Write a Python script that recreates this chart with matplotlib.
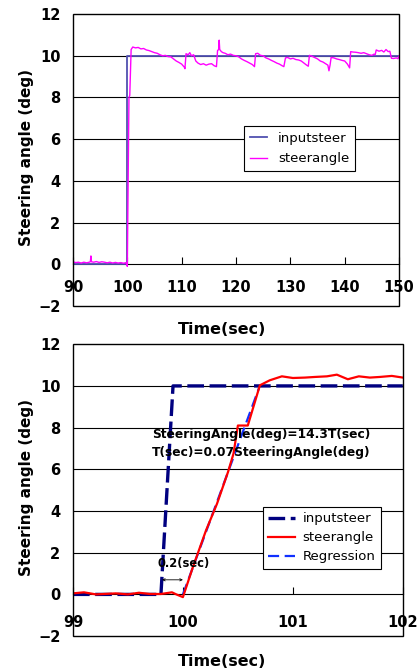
import matplotlib
matplotlib.use("Agg")
import matplotlib.pyplot as plt
from matplotlib.patches import Rectangle

plt.rcParams['font.family'] = ['DejaVu Sans']
plt.rcParams['lines.scale_dashes'] = False

# --- upper chart: 90-150 s ---
top_input_t = [90, 100, 100, 150]
top_input_v = [0, 0, 10, 10]

top_steer_t = [90.0, 90.5, 91.0, 91.5, 92.0, 92.5, 93.0, 93.2, 93.3, 93.4, 93.8, 94.3, 94.8,
               95.3, 95.8, 96.3, 96.8, 97.3, 97.8, 98.3, 98.8, 99.3, 99.8, 100.0, 100.3,
               100.45, 100.7, 101.0, 101.5, 102.0, 102.5, 103.0, 103.5, 104.0, 104.5, 105.0,
               105.5, 106.0, 106.5, 107.0, 107.5, 108.0, 108.5, 109.0, 109.5, 110.0, 110.5,
               110.6, 110.8, 111.2, 111.5, 111.8, 112.2, 112.6, 113.0, 113.5, 114.0, 114.5,
               115.0, 115.5, 116.0, 116.4, 116.6, 116.8, 116.9, 117.0, 117.3, 117.6, 118.0,
               118.5, 119.0, 119.5, 120.0, 120.5, 121.0, 121.5, 122.0, 122.5, 123.0, 123.4,
               123.6, 124.0, 124.5, 125.0, 125.5, 126.0, 126.5, 127.0, 127.5, 128.0, 128.5,
               128.8, 129.1, 129.5, 130.0, 130.5, 131.0, 131.5, 132.0, 132.5, 133.0, 133.3,
               133.5, 133.8, 134.2, 134.6, 135.0, 135.5, 136.0, 136.5, 136.9, 137.1, 137.3,
               137.5, 138.0, 138.5, 139.0, 139.5, 140.0, 140.5, 140.9, 141.1, 141.5, 142.0,
               142.5, 143.0, 143.5, 144.0, 144.5, 145.0, 145.4, 145.6, 145.8, 146.3, 146.8,
               147.2, 147.6, 148.0, 148.3, 148.6, 149.0, 149.5, 149.8, 150.0]
top_steer_v = [0.12, 0.08, 0.10, 0.06, 0.10, 0.07, 0.10, 0.12, 0.40, 0.12, 0.10, 0.13, 0.09,
               0.12, 0.10, 0.07, 0.10, 0.06, 0.09, 0.06, 0.08, 0.05, 0.08, -0.10, 8.0,
               8.1, 10.3, 10.42, 10.38, 10.40, 10.33, 10.35, 10.28, 10.25, 10.20, 10.15,
               10.12, 10.05, 10.00, 10.02, 9.96, 9.95, 9.85, 9.75, 9.68, 9.60, 9.45,
               9.38, 10.10, 10.05, 10.15, 10.00, 10.05, 9.75, 9.65, 9.58, 9.62, 9.55,
               9.60, 9.62, 9.52, 9.48, 10.25, 10.30, 10.75, 10.30, 10.20, 10.15, 10.12,
               10.05, 10.08, 10.02, 10.00, 9.95, 9.85, 9.78, 9.72, 9.65, 9.58, 9.48,
               10.10, 10.12, 10.02, 10.00, 9.90, 9.85, 9.78, 9.72, 9.65, 9.60, 9.52,
               9.48, 9.90, 9.92, 9.85, 9.88, 9.82, 9.80, 9.75, 9.65, 9.55, 9.50,
               10.02, 10.00, 9.95, 9.90, 9.85, 9.75, 9.70, 9.62, 9.55, 9.28, 9.55,
               9.92, 9.90, 9.85, 9.82, 9.78, 9.75, 9.60, 9.42, 10.20, 10.18, 10.17,
               10.15, 10.12, 10.15, 10.10, 10.05, 10.02, 10.08, 10.05, 10.28, 10.22, 10.26,
               10.18, 10.30, 10.20, 10.22, 9.88, 9.87, 9.90, 9.86, 10.00]

# --- lower chart: zoom 99-102 s ---
bot_input_t = [99.0, 99.8, 99.91, 102.0]
bot_input_v = [0, 0, 10, 10]

bot_steer_t = [99.0, 99.1, 99.21, 99.39, 99.5, 99.6, 99.7, 99.8, 99.9, 99.94, 100.0, 100.09,
               100.21, 100.31, 100.41, 100.46, 100.5, 100.59, 100.7, 100.79, 100.9, 101.0,
               101.11, 101.2, 101.31, 101.4, 101.5, 101.6, 101.7, 101.79, 101.9, 102.0]
bot_steer_v = [0.05, 0.1, 0.0, 0.05, 0.0, 0.08, 0.02, 0.02, 0.1, 0.0, -0.13, 1.3,
               3.07, 4.35, 5.87, 6.75, 8.1, 8.1, 10.03, 10.27, 10.46, 10.38,
               10.4, 10.43, 10.46, 10.54, 10.32, 10.46, 10.4, 10.43, 10.48, 10.4]

reg_t = [100.0, 100.69]
reg_v = [0.0, 9.87]

fig = plt.figure(figsize=(4.17, 6.71), dpi=100)
ax1 = fig.add_axes([0.175, 0.544, 0.782, 0.435])
ax2 = fig.add_axes([0.175, 0.052, 0.791, 0.435])


def style_axes(ax, xlim, xticks, pad):
    ax.set_xlim(*xlim)
    ax.set_ylim(-2, 12)
    ax.set_xticks(xticks)
    ax.set_yticks(range(-2, 13, 2))
    for y in range(2, 12, 2):
        ax.axhline(y, color='black', lw=0.8, zorder=1)
    # excel style: x axis crosses at 0
    for s in ['top', 'right', 'left']:
        ax.spines[s].set_visible(False)
    ax.spines['bottom'].set_position(('data', 0))
    ax.spines['bottom'].set_linewidth(0.8)
    ax.add_patch(Rectangle((0, 0), 1, 1, transform=ax.transAxes, fill=False,
                           lw=1.0, ec='black', clip_on=False, zorder=5))
    ax.tick_params(axis='x', direction='in', length=5, pad=pad, width=0.8)
    ax.tick_params(axis='y', length=0, pad=9)
    for lab in ax.get_xticklabels() + ax.get_yticklabels():
        lab.set_fontweight('bold')
        lab.set_fontsize(10.5)


style_axes(ax1, (90, 150), range(90, 151, 10), 11)
style_axes(ax2, (99, 102), range(99, 103), 15)

ax1.plot(top_input_t, top_input_v, color='#5050b0', lw=1.3, label='inputsteer', zorder=3)
ax1.plot(top_steer_t, top_steer_v, color='#ff00ff', lw=1.0, label='steerangle', zorder=4)
ax1.legend(loc='upper left', bbox_to_anchor=(0.525, 0.616), fontsize=9.5, frameon=True,
           fancybox=False, edgecolor='black', framealpha=1, handlelength=1.3,
           handletextpad=0.8, borderpad=0.45, labelspacing=0.55,
           borderaxespad=0).get_frame().set_linewidth(0.8)

ax2.plot(bot_input_t, bot_input_v, color='#000080', lw=2.4, dashes=(12, 4),
         label='inputsteer', zorder=3)
ax2.plot(bot_steer_t, bot_steer_v, color='#ff0000', lw=1.6, label='steerangle', zorder=4)
ax2.plot(reg_t, reg_v, color='#1030ff', lw=1.6, dashes=(8, 4), label='Regression',
         zorder=3)
ax2.legend(loc='upper left', bbox_to_anchor=(0.576, 0.442), fontsize=9.5, frameon=True,
           fancybox=False, edgecolor='black', framealpha=1, handlelength=2.0,
           handletextpad=0.6, borderpad=0.4, labelspacing=0.45,
           borderaxespad=0).get_frame().set_linewidth(0.8)

ax2.text(99.72, 7.68, 'SteeringAngle(deg)=14.3T(sec)', fontsize=8.8, fontweight='bold',
         va='center', ha='left', zorder=6)
ax2.text(99.72, 6.8, 'T(sec)=0.07SteeringAngle(deg)', fontsize=8.8, fontweight='bold',
         va='center', ha='left', zorder=6)
ax2.text(100.01, 1.47, '0.2(sec)', fontsize=8.3, fontweight='bold', va='center', ha='center',
         zorder=6)
ax2.annotate('', xy=(99.81, 0.7), xytext=(100.0, 0.7),
             arrowprops=dict(arrowstyle='<->', lw=0.6, color='black', mutation_scale=4,
                             shrinkA=0, shrinkB=0))

for y_center in [1 - 158 / 671, 1 - 488 / 671]:
    fig.text(27 / 417, y_center, 'Steering angle (deg)', rotation=90, ha='center',
             va='center', fontsize=11, fontweight='bold')
for y_center in [1 - 329 / 671, 1 - 662 / 671]:
    fig.text(222 / 417, y_center, 'Time(sec)', ha='center', va='center',
             fontsize=11.5, fontweight='bold')

fig.savefig('out.png', dpi=100)
